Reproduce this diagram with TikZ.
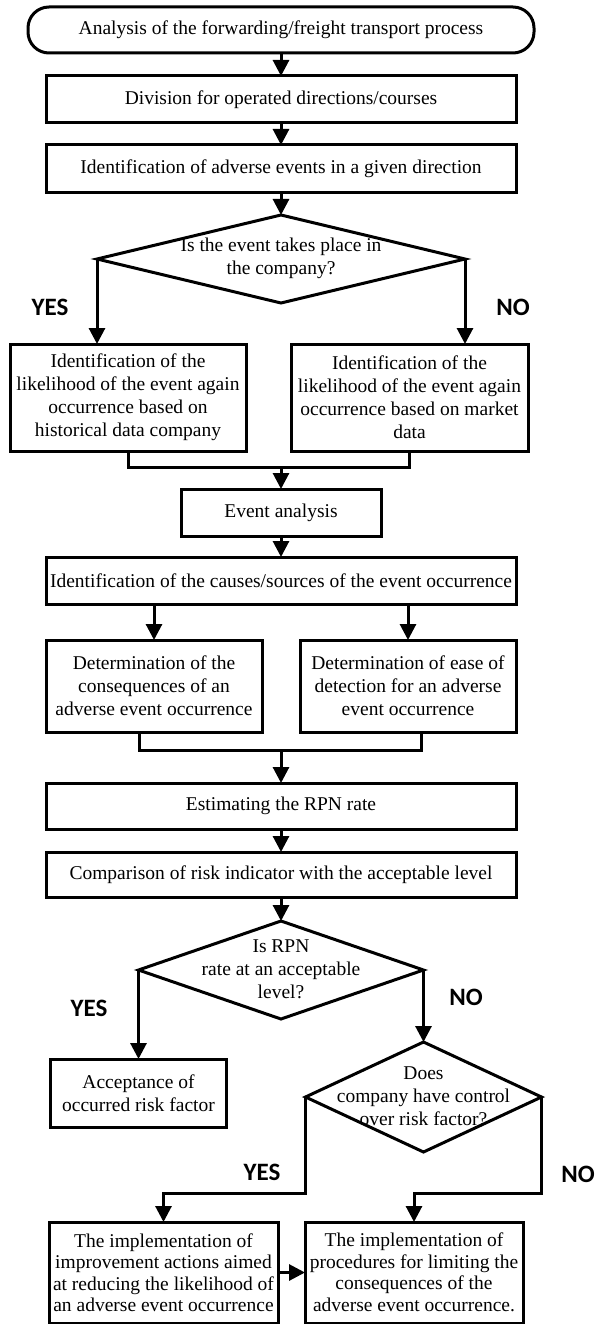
\documentclass[tikz,border=0pt]{standalone}
\usepackage{fontspec}
\setmainfont{Liberation Serif}
\newfontfamily\lblfont{Carlito}
\usetikzlibrary{arrows.meta,shapes.geometric}
\begin{document}
\begin{tikzpicture}[x=1pt,y=-1pt,
 every node/.style={inner sep=0pt, outer sep=0pt},
 box/.style={draw, line width=3pt, rectangle, align=center, font=\fontsize{19.5}{23}\selectfont},
 term/.style={box, rounded corners=21pt},
 dia/.style={draw, line width=3pt, diamond},
 txt/.style={align=center, font=\fontsize{19.5}{23}\selectfont},
 lbl/.style={font=\lblfont\bfseries\fontsize{25}{29}\selectfont},
 conn/.style={line width=3pt},
 arr/.style={conn, -{Triangle[length=16pt,width=16pt]}},
]
\useasboundingbox (0,0) rectangle (596,1324);
\fill[white] (0,0) rectangle (596,1324);

\node[term, minimum width=506pt, minimum height=46pt] (start) at (281,30) {Analysis of the forwarding/freight transport process};
\node[box, minimum width=470pt, minimum height=47pt] (div) at (281,99.5) {Division for operated directions/courses};
\node[box, minimum width=470pt, minimum height=48pt] (adv) at (281,169) {Identification of adverse events in a given direction};
\node[dia, minimum width=368pt, minimum height=88pt] (d1) at (281,259) {};
\node[txt] (d1t) at (281,258.5) {Is the event takes place in\\the company?};
\node[lbl] (yes1) at (50,307) {YES};
\node[lbl] (no1) at (513,307) {NO};
\node[box, minimum width=236pt, minimum height=107pt] (hist) at (128,397.5) {Identification of the\\likelihood of the event again\\occurrence based on\\historical data company};
\node[box, minimum width=237pt, minimum height=107pt] (mkt) at (409.5,397.5) {Identification of the\\likelihood of the event again\\occurrence based on market\\data};
\coordinate (m1) at (281,467);
\node[box, minimum width=200pt, minimum height=47pt] (ev) at (281,512.5) {Event analysis};
\node[box, minimum width=470pt, minimum height=47pt] (cause) at (281,580.5) {Identification of the causes/sources of the event occurrence};
\node[box, minimum width=216pt, minimum height=92pt] (cons) at (154,686) {Determination of the\\consequences of an\\adverse event occurrence};
\node[box, minimum width=216pt, minimum height=92pt] (det) at (408,686) {Determination of ease of\\detection for an adverse\\event occurrence};
\coordinate (m2) at (281,750);
\node[box, minimum width=470pt, minimum height=46pt] (rpn) at (281,806) {Estimating the RPN rate};
\node[box, minimum width=470pt, minimum height=45pt] (cmp) at (281,874.5) {Comparison of risk indicator with the acceptable level};
\node[dia, minimum width=285pt, minimum height=98pt] (d2) at (281,970) {};
\node[txt] (d2t) at (281,969) {Is RPN\\rate at an acceptable\\level?};
\node[lbl] (yes2) at (89,1008) {YES};
\node[lbl] (no2) at (466,997) {NO};
\node[box, minimum width=176pt, minimum height=68pt] (acc) at (138.5,1093) {Acceptance of\\occurred risk factor};
\node[dia, minimum width=236pt, minimum height=110pt] (d3) at (423.5,1097) {};
\node[txt] (d3t) at (423.5,1096) {Does\\company have control\\over risk factor?};
\node[lbl] (yes3) at (262,1172) {YES};
\node[lbl] (no3) at (578,1174) {NO};
\node[box, minimum width=229pt, minimum height=101pt, font=\fontsize{19.5}{21.5}\selectfont] (impr) at (163.5,1272.5) {The implementation of\\improvement actions aimed\\at reducing the likelihood of\\an adverse event occurrence};
\node[box, minimum width=218pt, minimum height=101pt, font=\fontsize{19.5}{21.5}\selectfont] (proc) at (414,1272.5) {The implementation of\\procedures for limiting the\\consequences of the\\adverse event occurrence.};

\draw[arr] (start) -- (div);
\draw[arr] (div) -- (adv);
\draw[arr] (adv) -- (d1);
\draw[arr] (d1.west) -- (d1.west |- hist.north);
\draw[arr] (d1.east) -- (d1.east |- mkt.north);
\draw[conn] (hist.south) |- (m1) -| (mkt.south);
\draw[arr] (m1) -- (ev);
\draw[arr] (ev) -- (cause);
\draw[arr] (cause.south -| cons.north) -- (cons.north);
\draw[arr] (cause.south -| det.north) -- (det.north);
\draw[conn] ([xshift=-15pt]cons.south) |- (m2) -| ([xshift=13pt]det.south);
\draw[arr] (m2) -- (rpn);
\draw[arr] (rpn) -- (cmp);
\draw[arr] (cmp) -- (d2);
\draw[arr] (d2.west) -- (acc.north);
\draw[arr] (d2.east) -- (d3.north);
\draw[arr] (d3.west) -- ++(0,96) -| (impr.north);
\draw[arr] (d3.east) -- ++(0,96) -| (proc.north);
\draw[arr] (impr) -- (proc);
\end{tikzpicture}
\end{document}
